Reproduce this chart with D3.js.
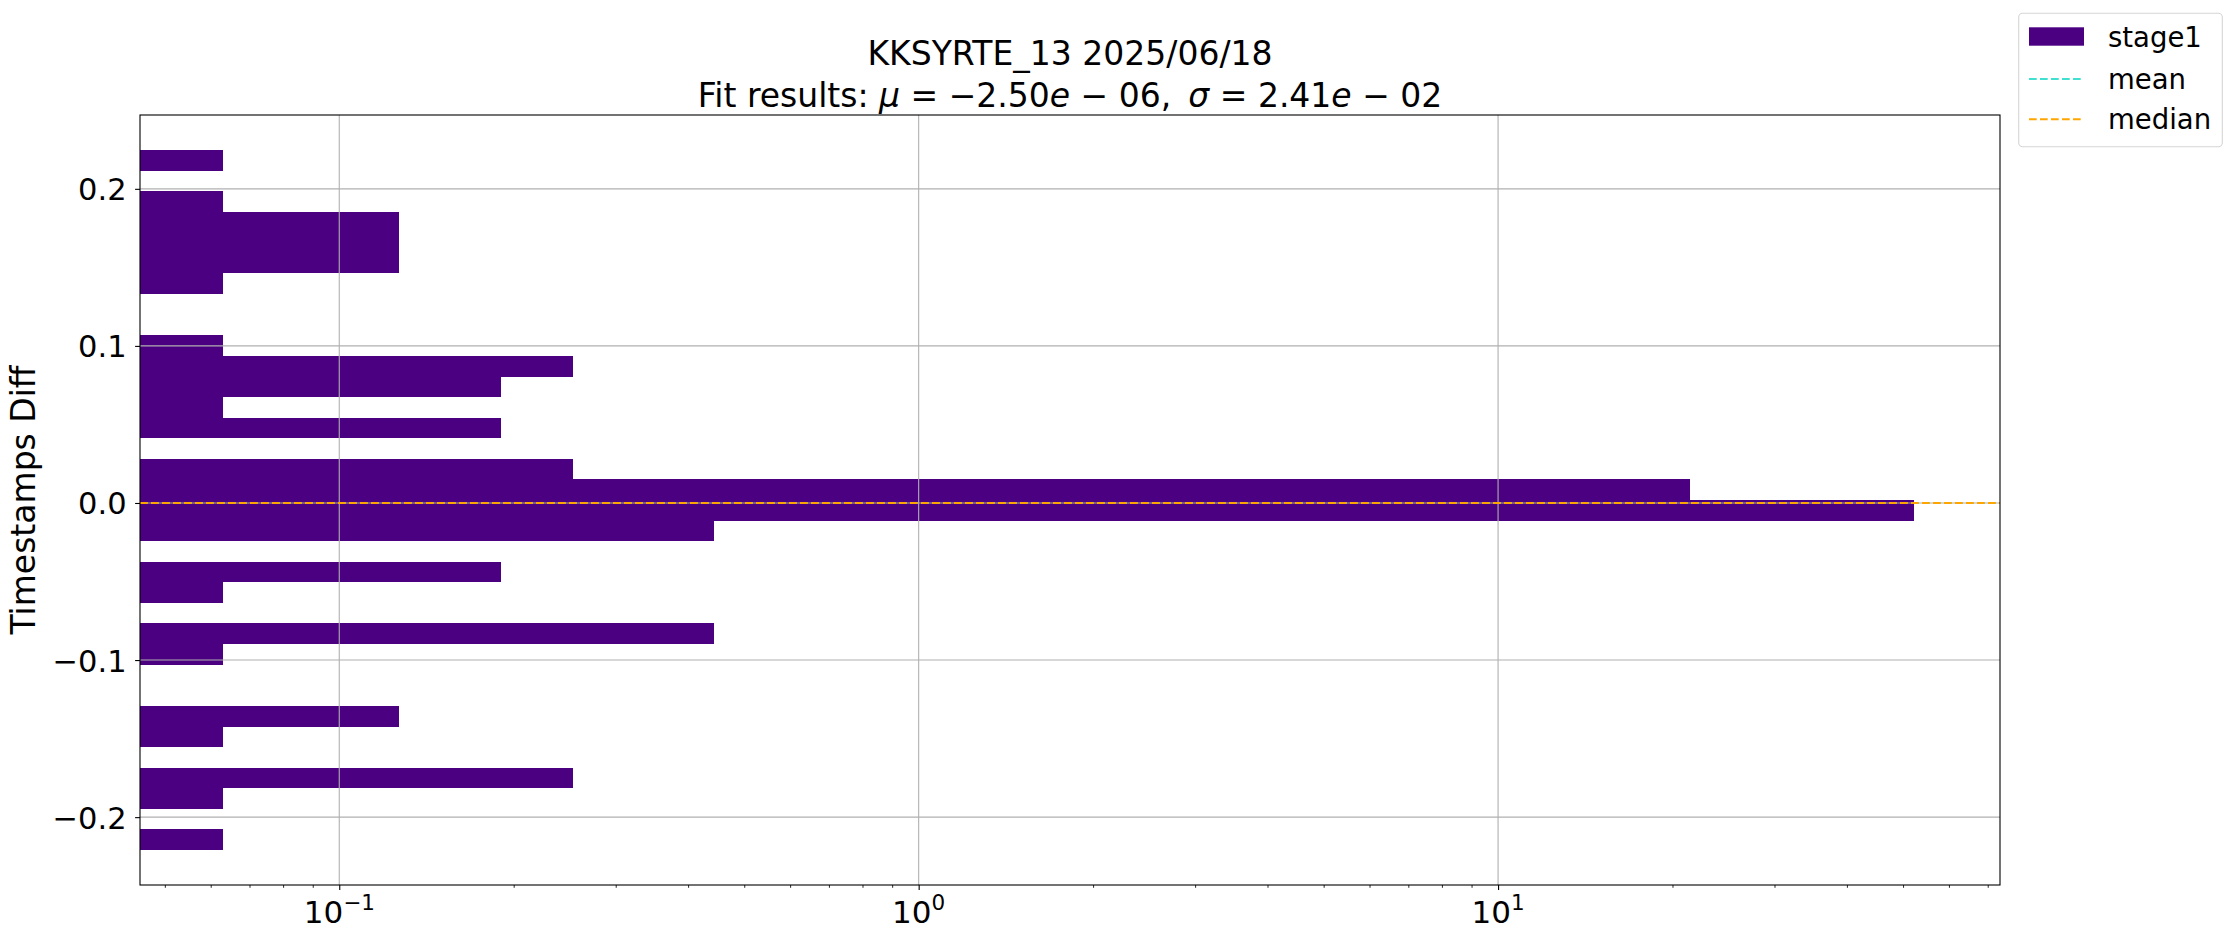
<!DOCTYPE html>
<html>
<head>
<meta charset="utf-8">
<script src="https://cdn.jsdelivr.net/npm/d3@7"></script>
<style>
  html, body { margin: 0; padding: 0; background: #fff; }
  svg { display: block; font-family: "DejaVu Sans", sans-serif; }
</style>
</head>
<body>
<svg id="chart" width="2235" height="940"></svg>
<script>
// ---- data ----
const titleLine1 = "KKSYRTE_13 2025/06/18";
const yLabel = "Timestamps Diff";
const seriesName = "stage1";
const binEdges = [-0.2209, -0.2078, -0.1947, -0.1816, -0.1685, -0.1554, -0.1423, -0.1292, -0.1161, -0.1029,
  -0.0898, -0.0767, -0.0636, -0.0505, -0.0374, -0.0243, -0.0112, 0.0019, 0.0150, 0.0281,
  0.0412, 0.0543, 0.0674, 0.0805, 0.0936, 0.1068, 0.1199, 0.1330, 0.1461, 0.1592,
  0.1723, 0.1854, 0.1985, 0.2116, 0.2247];
const densities = [0.063, 0, 0.063, 0.253, 0, 0.063, 0.127, 0, 0, 0.063,
  0.443, 0, 0.063, 0.19, 0, 0.443, 52.3, 21.4, 0.253, 0,
  0.19, 0.063, 0.19, 0.253, 0.063, 0, 0, 0.063, 0.127, 0.127,
  0.127, 0.063, 0, 0.063];
const meanValue = -2.50e-06;
const medianValue = 0.0;
const yTicks = [-0.2, -0.1, 0.0, 0.1, 0.2];
const yTickLabels = ["\u22120.2", "\u22120.1", "0.0", "0.1", "0.2"];
const xMajorTicks = [0.1, 1, 10];
const xTickExponents = ["\u22121", "0", "1"];
const xDomain = [0.0453, 73.5];
const yDomain = [-0.2432, 0.2470];

// ---- layout ----
const M = { left: 140, right: 2000, top: 115, bottom: 885 };
const purple = "#4b0082", turq = "#40e0d0", orange = "#ffa500";

const svg = d3.select("#chart");
const x = d3.scaleLog().domain(xDomain).range([M.left, M.right]);
const y = d3.scaleLinear().domain(yDomain).range([M.bottom, M.top]);

svg.append("defs").append("clipPath").attr("id", "clip")
  .append("rect").attr("x", M.left).attr("y", M.top)
  .attr("width", M.right - M.left).attr("height", M.bottom - M.top);

// bars
const bins = densities.map((v, i) => ({ lo: binEdges[i], hi: binEdges[i + 1], v }));
svg.append("g").attr("clip-path", "url(#clip)")
  .selectAll("rect").data(bins.filter(d => d.v > 0)).join("rect")
  .attr("x", M.left)
  .attr("y", d => y(d.hi))
  .attr("width", d => x(d.v) - M.left)
  .attr("height", d => y(d.lo) - y(d.hi))
  .attr("fill", purple)
  .attr("shape-rendering", "crispEdges");

// grid
const grid = svg.append("g").attr("stroke", "#b0b0b0").attr("stroke-width", 1.1);
grid.selectAll("line.gx").data(xMajorTicks).join("line")
  .attr("x1", d => x(d)).attr("x2", d => x(d)).attr("y1", M.top).attr("y2", M.bottom);
grid.selectAll("line.gy").data(yTicks).join("line")
  .attr("y1", d => y(d)).attr("y2", d => y(d)).attr("x1", M.left).attr("x2", M.right);

// mean / median lines
const lines = svg.append("g").attr("clip-path", "url(#clip)");
lines.append("line").attr("x1", M.left).attr("x2", M.right)
  .attr("y1", y(meanValue)).attr("y2", y(meanValue))
  .attr("stroke", turq).attr("stroke-width", 2.1).attr("stroke-dasharray", "7.7,3.3");
lines.append("line").attr("x1", M.left).attr("x2", M.right)
  .attr("y1", y(medianValue)).attr("y2", y(medianValue))
  .attr("stroke", orange).attr("stroke-width", 2.1).attr("stroke-dasharray", "7.7,3.3");

// axes
const xAxis = d3.axisBottom(x).tickValues(
  d3.range(-2, 2).flatMap(e => d3.range(1, 10).map(m => m * Math.pow(10, e)))
    .filter(v => v >= xDomain[0] && v <= xDomain[1])
).tickFormat("").tickSizeOuter(0);
const gx = svg.append("g").attr("transform", `translate(0,${M.bottom})`).call(xAxis);
gx.select(".domain").remove();
gx.selectAll(".tick line")
  .attr("y2", d => xMajorTicks.includes(d) ? 4.9 : 2.8)
  .attr("stroke-width", d => xMajorTicks.includes(d) ? 1.1 : 0.85)
  .attr("stroke", "#000");

// x tick labels (10^n)
const xl = svg.append("g").selectAll("text").data(xMajorTicks).join("text")
  .attr("x", d => x(d)).attr("y", 923)
  .attr("text-anchor", "middle").attr("font-size", 31).attr("fill", "#000");
xl.append("tspan").text("10");
xl.append("tspan").attr("dy", -13).attr("font-size", 21.5).text((d, i) => xTickExponents[i]);

const yAxis = d3.axisLeft(y).tickValues(yTicks).tickFormat((d, i) => yTickLabels[i])
  .tickSize(4.9).tickPadding(8.5).tickSizeOuter(0);
const gy = svg.append("g").attr("transform", `translate(${M.left},0)`).call(yAxis);
gy.attr("font-family", "DejaVu Sans");
gy.select(".domain").remove();
gy.selectAll(".tick line").attr("stroke", "#000").attr("stroke-width", 1.1);
gy.selectAll(".tick text").attr("font-size", 30.5).attr("font-family", "DejaVu Sans")
  .attr("dy", null).attr("y", 0).attr("dominant-baseline", "auto")
  .attr("transform", "translate(0,11)");

// frame
svg.append("rect").attr("x", M.left).attr("y", M.top)
  .attr("width", M.right - M.left).attr("height", M.bottom - M.top)
  .attr("fill", "none").attr("stroke", "#000").attr("stroke-width", 1.1);

// title
const cx = (M.left + M.right) / 2;
svg.append("text").attr("x", cx).attr("y", 65).attr("text-anchor", "middle")
  .attr("font-size", 33).text(titleLine1);
const t2 = svg.append("text").attr("x", cx).attr("y", 106.5).attr("text-anchor", "middle")
  .attr("font-size", 33);
t2.append("tspan").text("Fit results: ");
t2.append("tspan").attr("font-style", "italic").text("\u03bc");
t2.append("tspan").text(" = \u22122.50");
t2.append("tspan").attr("font-style", "italic").text("e");
t2.append("tspan").text(" \u2212 06,\u00a0\u2009");
t2.append("tspan").attr("font-style", "italic").text("\u03c3");
t2.append("tspan").text(" = 2.41");
t2.append("tspan").attr("font-style", "italic").text("e");
t2.append("tspan").text(" \u2212 02");

// y label
svg.append("text").attr("transform", `translate(35,${(M.top + M.bottom) / 2}) rotate(-90)`)
  .attr("text-anchor", "middle").attr("font-size", 33).text(yLabel);

// legend
const lg = svg.append("g");
lg.append("rect").attr("x", 2018.7).attr("y", 13.3).attr("width", 203.6).attr("height", 133.4)
  .attr("rx", 4).attr("fill", "#fff").attr("stroke", "#d5d5d5").attr("stroke-width", 1.1);
lg.append("rect").attr("x", 2029).attr("y", 27.3).attr("width", 55).attr("height", 18.4).attr("fill", purple);
lg.append("line").attr("x1", 2029).attr("x2", 2084).attr("y1", 79).attr("y2", 79)
  .attr("stroke", turq).attr("stroke-width", 2.1).attr("stroke-dasharray", "7.7,3.3");
lg.append("line").attr("x1", 2029).attr("x2", 2084).attr("y1", 119.3).attr("y2", 119.3)
  .attr("stroke", orange).attr("stroke-width", 2.1).attr("stroke-dasharray", "7.7,3.3");
const legendLabels = [seriesName, "mean", "median"];
const legendY = [36.5, 79, 119.3];
lg.selectAll("text.lt").data(legendLabels).join("text")
  .attr("x", 2108).attr("y", (d, i) => legendY[i] + 10).attr("font-size", 27.5).text(d => d);
</script>
</body>
</html>
